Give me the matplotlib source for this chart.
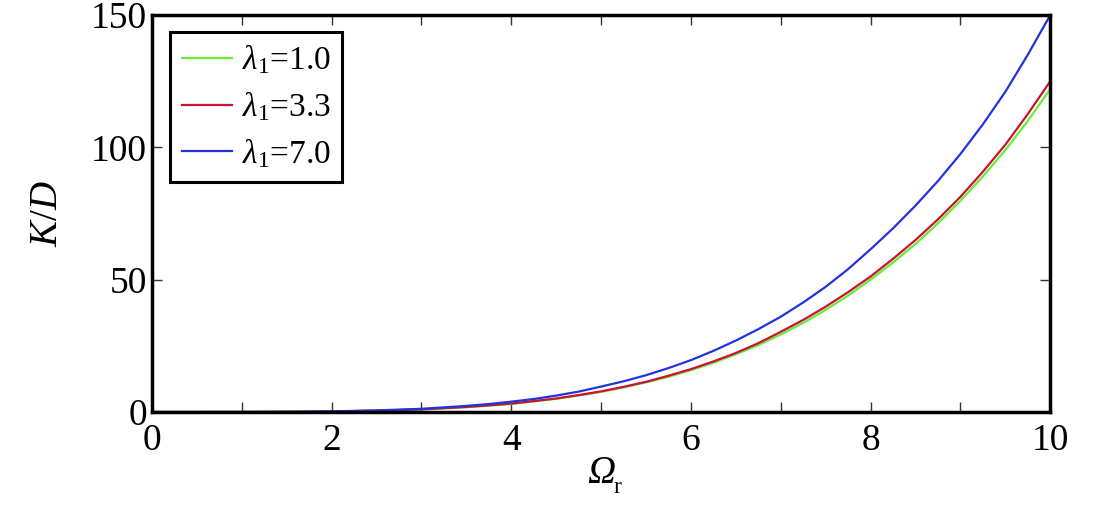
import numpy as np
import matplotlib
matplotlib.use('Agg')
import matplotlib.pyplot as plt
from matplotlib.ticker import MultipleLocator

plt.rcParams['font.family'] = 'Liberation Serif'
plt.rcParams['mathtext.fontset'] = 'custom'
plt.rcParams['mathtext.rm'] = 'Liberation Serif'
plt.rcParams['mathtext.it'] = 'Liberation Serif:italic'

# values
omega = [0, 0.5, 1, 1.5, 2, 2.5, 3, 3.5, 3.75, 4, 4.25, 4.5, 4.75, 5, 5.25, 5.5, 5.75, 6, 6.25, 6.5, 6.75,
         7, 7.25, 7.5, 7.75, 8, 8.25, 8.5, 8.75, 9, 9.25, 9.5, 9.75, 10]
kd_l1 = [0, 0.0, 0.01, 0.06, 0.2, 0.48, 0.99, 1.8, 2.4, 3.0, 4.0, 5.0, 6.2, 7.6, 9.3, 11.2, 13.3, 15.8, 18.6, 21.8, 25.3,
         29.3, 33.7, 38.6, 44.0, 50.0, 56.5, 63.5, 71.3, 79.8, 89.0, 99.0, 110.0, 122.0]
kd_l33 = [0, 0.0, 0.01, 0.06, 0.2, 0.49, 1.0, 1.9, 2.5, 3.2, 4.1, 5.1, 6.4, 7.8, 9.5, 11.4, 13.7, 16.2, 19.1, 22.3, 26.0,
          30.3, 34.8, 39.8, 45.3, 51.2, 57.9, 65.0, 72.8, 81.3, 90.8, 101.0, 112.6, 125.0]
kd_l7 = [0, 0.0, 0.02, 0.08, 0.24, 0.59, 1.2, 2.3, 3.0, 3.9, 4.9, 6.2, 7.7, 9.6, 11.6, 13.9, 16.6, 19.6, 23.1, 27.0, 31.3,
         36.0, 41.4, 47.3, 54.0, 61.5, 69.4, 78.0, 87.3, 97.5, 108.7, 121.0, 135.0, 150.0]

labels = [r'$\mathit{\lambda}_1$=1.0', r'$\mathit{\lambda}_1$=3.3', r'$\mathit{\lambda}_1$=7.0']
colors = ['#66ee33', '#cc1133', '#2233dd']

fig = plt.figure(figsize=(11.03, 5.07), dpi=100)
ax = fig.add_axes([0.1378, 0.1874, 0.8144, 0.7830])

for y, lab, c in zip([kd_l1, kd_l33, kd_l7], labels, colors):
  ax.plot(omega, y, color=c, lw=1.6, label=lab)

ax.set_xlim(0, 10)
ax.set_ylim(0, 150)
ax.xaxis.set_major_locator(MultipleLocator(2))
ax.xaxis.set_minor_locator(MultipleLocator(1))
ax.yaxis.set_major_locator(MultipleLocator(50))
ax.tick_params(which='both', direction='in', top=True, right=True, labelsize=27, width=1, color='#333333')
ax.tick_params(which='major', length=7)
ax.tick_params(which='minor', length=7)
ax.tick_params(axis='x', pad=8)
for s in ax.spines.values():
  s.set_linewidth(2.5)

xl = ax.set_xlabel('Ω', fontsize=28, style='italic', labelpad=-2)
ax.annotate('r', xy=(1, 0), xycoords=xl, xytext=(-1, 11), textcoords='offset points',
            fontsize=17, ha='left', va='top')
ax.set_ylabel(r'$\mathit{K/D}$', fontsize=28, labelpad=18)

leg = ax.legend(loc='upper left', bbox_to_anchor=(0.02, 0.957), fontsize=24, frameon=True,
                fancybox=False, edgecolor='black', handlelength=1.5, handletextpad=0.3,
                borderpad=0.35, labelspacing=0.42, borderaxespad=0)
leg.get_frame().set_linewidth(2.2)
leg.get_frame().set_alpha(1)

fig.savefig('out.png', dpi=100)
